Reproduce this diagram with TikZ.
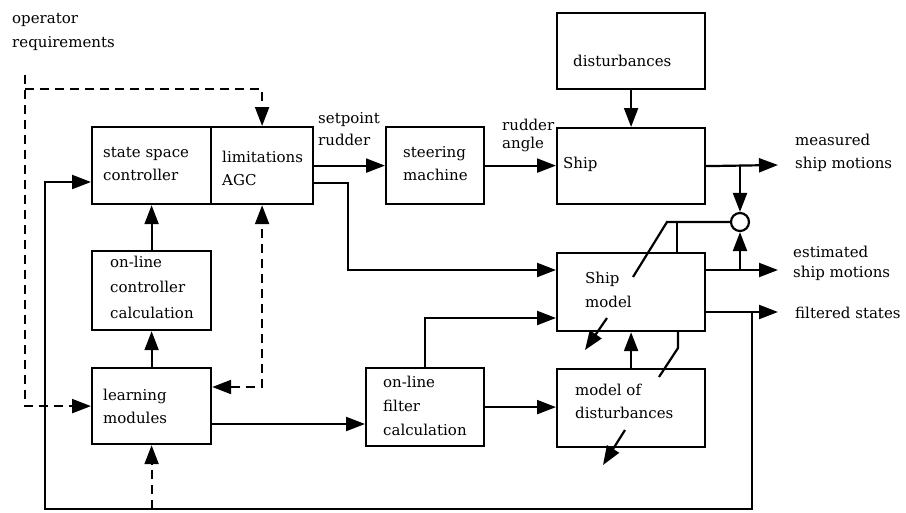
\documentclass[tikz,border=0pt]{standalone}
\usepackage{fontspec}
\setmainfont{DejaVu Serif}
\usetikzlibrary{arrows.meta,calc}
\newcommand{\fsz}{\fontsize{15}{23}\selectfont}
\begin{document}
\begin{tikzpicture}[x=1pt,y=-1pt,
  blk/.style={draw, line width=2.2pt, inner sep=0pt, anchor=north west},
  ln/.style={line width=2.2pt},
  arr/.style={line width=2.2pt, -{Triangle[length=19pt,width=14pt]}},
  darr/.style={line width=2.2pt, dash pattern=on 9pt off 6pt, -{Triangle[length=19pt,width=14pt]}},
  txt/.style={anchor=base west, inner sep=0pt, align=left, font=\fsz}]
\useasboundingbox (0,0) rectangle (906,512);
% boxes
\node[blk, minimum width=119pt, minimum height=77pt] (ssc) at (91,126) {};
\node[blk, minimum width=102pt, minimum height=77pt] (lim) at (210,126) {};
\node[blk, minimum width=98pt, minimum height=77pt] (steer) at (385,126) {};
\node[blk, minimum width=148pt, minimum height=76pt] (dist) at (556,12) {};
\node[blk, minimum width=148pt, minimum height=76pt] (ship) at (556,127) {};
\node[blk, minimum width=148pt, minimum height=78pt] (shipm) at (556,252) {};
\node[blk, minimum width=148pt, minimum height=78pt] (mdist) at (556,368) {};
\node[blk, minimum width=119pt, minimum height=79pt] (occ) at (91,250) {};
\node[blk, minimum width=119pt, minimum height=76pt] (learn) at (91,367) {};
\node[blk, minimum width=118pt, minimum height=78pt] (filt) at (365,367) {};
\node[draw, line width=2.2pt, circle, minimum size=18pt, inner sep=0pt, fill=white] (cmp) at (740,222) {};
% texts (anchored at the baseline of the last line)
\node[txt] (t1) at (103,180) {state space\\controller};
\node[txt] (t2) at (222,185) {limitations\\AGC};
\node[txt] (t3) at (403,180) {steering\\machine};
\node[txt] (t4) at (563,168) {Ship};
\node[txt] (t5) at (573,66) {disturbances};
\node[txt] (t6) at (110,318) {on-line\\[2.5pt]controller\\[2.5pt]calculation};
\node[txt] (t7) at (103,423) {learning\\modules};
\node[txt] (t8) at (383,435) {on-line\\[1pt]filter\\[1pt]calculation};
\node[txt] (t9) at (585,307) {Ship\\[1pt]model};
\node[txt] (t10) at (575,418) {model of\\disturbances};
\node[txt] (l1) at (12,47) {operator\\[1pt]requirements};
\node[txt] (l2) at (318,145) {setpoint\\[-1pt]rudder};
\node[txt] (l3) at (502,148) {rudder\\[-5pt]angle};
\node[txt] (l4) at (795,168) {measured\\ship motions};
\node[txt] (l5) at (793,277) {estimated\\[-3pt]ship motions};
\node[txt] (l6) at (795,318) {filtered states};
% coordinates
\coordinate (mout) at (778,165);
\coordinate (eout) at (778,270);
\coordinate (fout) at (778,312);
\coordinate (fb) at (752,312);
\coordinate (bl) at (45,509);
% connectors
\draw[arr] (lim.east) -- (steer.west);
\draw[arr] (steer.east) -- (steer.east -| ship.west);
\draw[arr] (dist.south) -- (ship.north);
\draw[arr] (ship.east) -- (mout);
\draw[arr] (ship.east -| cmp) -- (cmp.north);
\draw[arr] (shipm.east |- eout) -- (eout);
\draw[arr] (cmp |- eout) -- (cmp.south);
\draw[arr] (shipm.east |- fout) -- (fout);
\draw[arr] (fb) |- (bl) |- (ssc.west |- 0,182);
\draw[arr] (lim.east |- 0,183) -| (348,270) -- (shipm.west |- 0,270);
\draw[arr] (occ.north) -- (ssc.south);
\draw[arr] (learn.north) -- (occ.south);
\draw[arr] (learn.east |- 0,424) -- (filt.west |- 0,424);
\draw[arr] (filt.east) -- (filt.east -| mdist.west);
\draw[arr] (filt.north) |- (shipm.west |- 0,318);
\draw[arr] (mdist.north) -- (shipm.south);
% adaptation paths
\draw[ln] (cmp.west) -- (667,222) -- (633,277);
\draw[ln] (677,222) -- (shipm.north -| 677,0);
\draw[arr] (607,318) -- (585,350);
\draw[ln] (shipm.south -| 678,0) -- (678,348) -- (659,377);
\draw[arr] (625,430) -- (603,465);
% dashed
\draw[darr] (25,75) |- (learn.west);
\draw[darr] (25,89) -| (lim.north);
\draw[darr, {Triangle[length=19pt,width=14pt]}-{Triangle[length=19pt,width=14pt]}] (learn.east |- 0,387) -| (lim.south);
\draw[darr] (learn.south |- bl) -- (learn.south);
\end{tikzpicture}
\end{document}
